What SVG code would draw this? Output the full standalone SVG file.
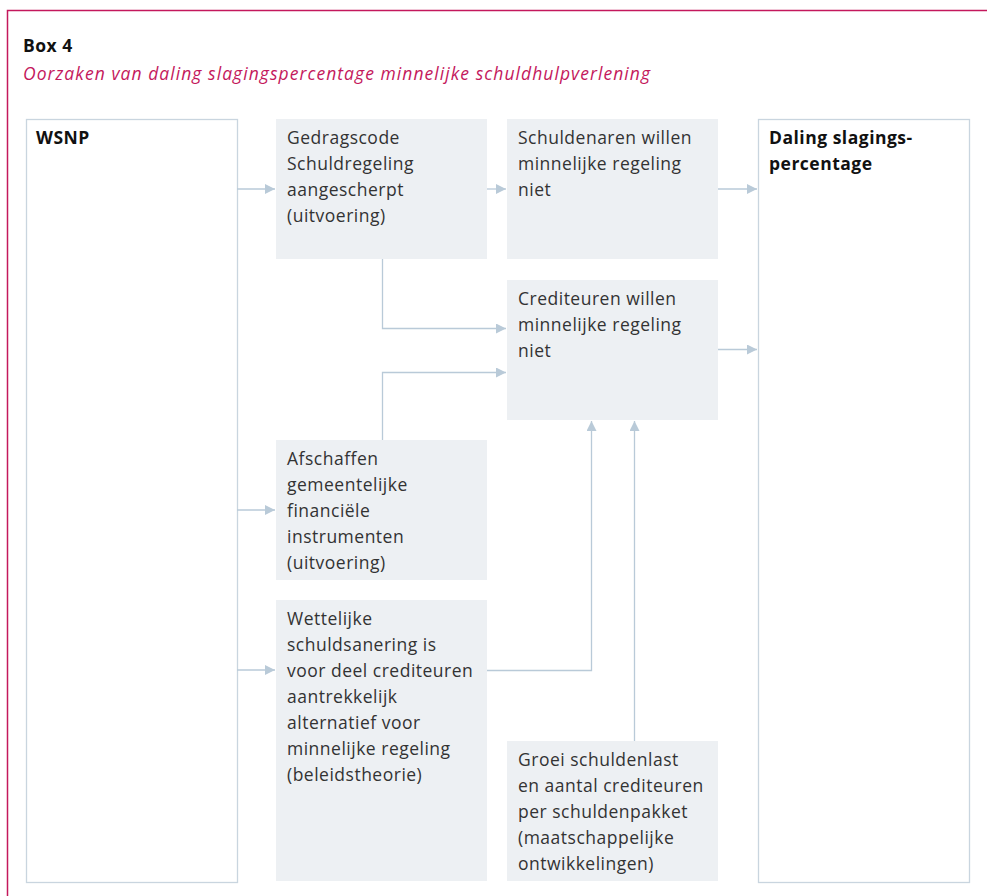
<svg xmlns="http://www.w3.org/2000/svg" width="987" height="896" viewBox="0 0 987 896">
<defs>
<marker id="ah" viewBox="0 0 10 10" refX="10" refY="5" markerWidth="10" markerHeight="10" markerUnits="userSpaceOnUse" orient="auto">
<path d="M0,0 L10,5 L0,10 Z" fill="#b9cad8"/>
</marker>
<style>
.t{font-family:"Open Sans","Noto Sans",sans-serif;font-size:17.5px;letter-spacing:0.5px;fill:#333333}
.b{font-family:"Open Sans","Noto Sans",sans-serif;font-size:17.5px;letter-spacing:0.5px;font-weight:bold;fill:#111111}
.i{font-family:"Open Sans","Noto Sans",sans-serif;font-size:17.5px;letter-spacing:1.05px;font-style:italic;fill:#c4185c}
.g{fill:#edf0f3}
.w{fill:#ffffff;stroke:#c9d5df;stroke-width:1.3}
.c{fill:none;stroke:#b9cad8;stroke-width:1.3}
</style>
</defs>
<rect width="987" height="896" fill="#ffffff"/>
<path d="M7.5,896 L7.5,10.5 L987,10.5" fill="none" stroke="#c4185c" stroke-width="1.5"/>
<text x="23" y="52" class="b">Box 4</text>
<text x="23" y="80" class="i">Oorzaken van daling slagingspercentage minnelijke schuldhulpverlening</text>

<g id="wsnp"><rect x="26.5" y="119.5" width="211" height="763" class="w"/><text x="36" y="144" class="b">WSNP</text></g>
<g id="gedragscode"><rect x="276" y="119" width="211" height="140" class="g"/><text class="t"><tspan x="287" y="144">Gedragscode</tspan><tspan x="287" y="170">Schuldregeling</tspan><tspan x="287" y="196">aangescherpt</tspan><tspan x="287" y="222">(uitvoering)</tspan></text></g>
<g id="schuldenaren"><rect x="507" y="119" width="211" height="140" class="g"/><text class="t"><tspan x="518" y="144">Schuldenaren willen</tspan><tspan x="518" y="170">minnelijke regeling</tspan><tspan x="518" y="196">niet</tspan></text></g>
<g id="crediteuren"><rect x="507" y="280" width="211" height="140" class="g"/><text class="t"><tspan x="518" y="305">Crediteuren willen</tspan><tspan x="518" y="331">minnelijke regeling</tspan><tspan x="518" y="357">niet</tspan></text></g>
<g id="afschaffen"><rect x="276" y="440" width="211" height="140" class="g"/><text class="t"><tspan x="287" y="465">Afschaffen</tspan><tspan x="287" y="491">gemeentelijke</tspan><tspan x="287" y="517">financiële</tspan><tspan x="287" y="543">instrumenten</tspan><tspan x="287" y="569">(uitvoering)</tspan></text></g>
<g id="wettelijke"><rect x="276" y="600" width="211" height="281" class="g"/><text class="t"><tspan x="287" y="625">Wettelijke</tspan><tspan x="287" y="651">schuldsanering is</tspan><tspan x="287" y="677">voor deel crediteuren</tspan><tspan x="287" y="703">aantrekkelijk</tspan><tspan x="287" y="729">alternatief voor</tspan><tspan x="287" y="755">minnelijke regeling</tspan><tspan x="287" y="781">(beleidstheorie)</tspan></text></g>
<g id="groei"><rect x="507" y="741" width="211" height="140" class="g"/><text class="t"><tspan x="518" y="766">Groei schuldenlast</tspan><tspan x="518" y="792">en aantal crediteuren</tspan><tspan x="518" y="818">per schuldenpakket</tspan><tspan x="518" y="844">(maatschappelijke</tspan><tspan x="518" y="870">ontwikkelingen)</tspan></text></g>
<g id="daling"><rect x="758.5" y="119.5" width="211" height="763" class="w"/><text class="b"><tspan x="769" y="144">Daling slagings-</tspan><tspan x="769" y="170">percentage</tspan></text></g>

<g id="connectors">
<path d="M237,189 H275" class="c" marker-end="url(#ah)"/>
<path d="M237,510 H275" class="c" marker-end="url(#ah)"/>
<path d="M237,670 H275" class="c" marker-end="url(#ah)"/>
<path d="M487,189 H506" class="c" marker-end="url(#ah)"/>
<path d="M382.5,259 V328.5 H506" class="c" marker-end="url(#ah)"/>
<path d="M382.5,440 V372.5 H506" class="c" marker-end="url(#ah)"/>
<path d="M487,670.5 H591.5 V421" class="c" marker-end="url(#ah)"/>
<path d="M634.5,741 V421" class="c" marker-end="url(#ah)"/>
<path d="M718,189 H757" class="c" marker-end="url(#ah)"/>
<path d="M718,349.5 H757" class="c" marker-end="url(#ah)"/>
</g>
</svg>
